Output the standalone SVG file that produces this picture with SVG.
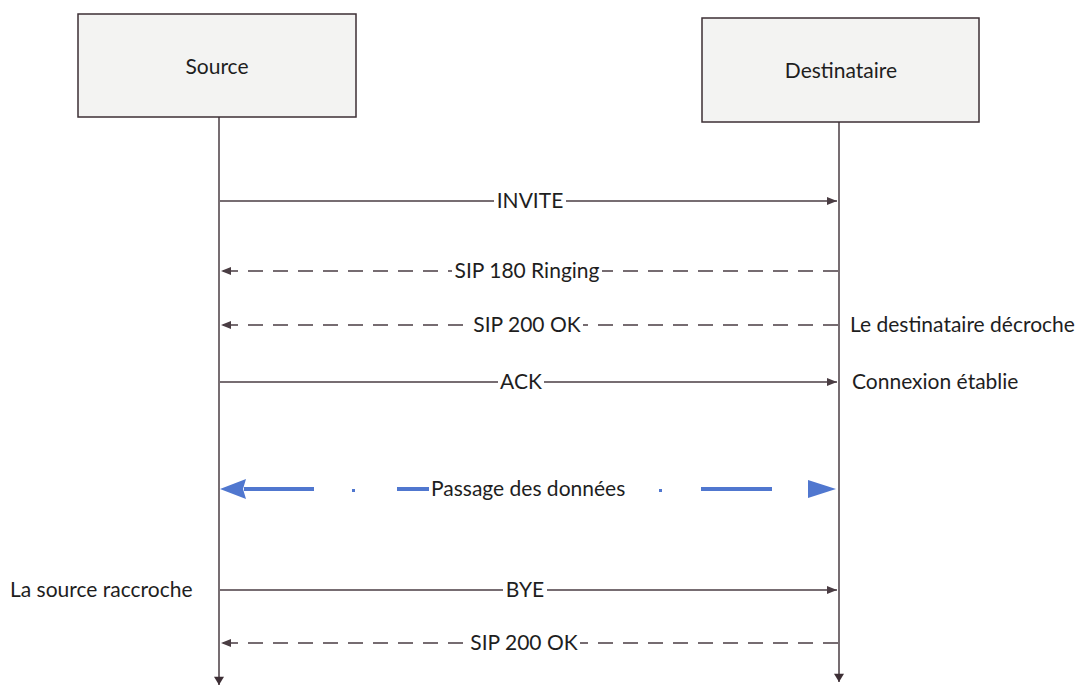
<svg xmlns="http://www.w3.org/2000/svg" width="1078" height="688" viewBox="0 0 1078 688">
  <style>
    .box { fill: #f3f3f2; stroke: #3d2f35; stroke-width: 1.5; }
    .life { stroke: #3d2f35; stroke-width: 1.4; fill: none; }
    .msg { stroke: #4a3d43; stroke-width: 1.3; fill: none; }
    .dash { stroke-dasharray: 15 10; }
    .lbl { font-family: Lato, "Liberation Sans", sans-serif; font-size: 21px; fill: #1e1e1e; }
    .mid { text-anchor: middle; }
    .bg { fill: #ffffff; }
    .blue { stroke: #5077cf; stroke-width: 4; fill: none; }
    .bluefill { fill: #5077cf; }
  </style>
  <defs>
    <marker id="head" viewBox="0 0 10 8" refX="10" refY="4" markerWidth="10" markerHeight="8" markerUnits="userSpaceOnUse" orient="auto-start-reverse">
      <path d="M0,0 L10,4 L0,8 Z" fill="#4a3d43"/>
    </marker>
    <marker id="down" viewBox="0 0 10 12" refX="10" refY="6" markerWidth="12" markerHeight="10" markerUnits="userSpaceOnUse" orient="auto">
      <path d="M0,0 L10,6 L0,12 Z" fill="#3d2f35"/>
    </marker>
  </defs>

  <rect width="1078" height="688" fill="#ffffff"/>

  <!-- participants -->
  <g id="source">
    <rect class="box" x="78" y="14" width="278" height="103"/>
    <text class="lbl mid" x="217" y="74">Source</text>
  </g>
  <g id="destinataire">
    <rect class="box" x="702" y="18" width="277" height="104"/>
    <text class="lbl mid" x="841" y="78">Destinataire</text>
  </g>

  <!-- side notes -->
  <g id="notes">
    <text class="lbl" x="850" y="332">Le destinataire décroche</text>
    <text class="lbl" x="852" y="389">Connexion établie</text>
    <text class="lbl" x="10" y="597">La source raccroche</text>
  </g>

  <!-- lifelines and messages -->
  <g id="connectors">
    <line class="life" x1="219" y1="117" x2="219" y2="685" marker-end="url(#down)"/>
    <line class="life" x1="839" y1="122" x2="839" y2="682" marker-end="url(#down)"/>

    <line class="msg" x1="220" y1="201" x2="837" y2="201" marker-end="url(#head)"/>
    <line class="msg dash" x1="838" y1="271" x2="221" y2="271" marker-end="url(#head)"/>
    <line class="msg dash" x1="838" y1="325" x2="221" y2="325" marker-end="url(#head)"/>
    <line class="msg" x1="220" y1="382" x2="837" y2="382" marker-end="url(#head)"/>
    <line class="msg" x1="220" y1="590" x2="837" y2="590" marker-end="url(#head)"/>
    <line class="msg dash" x1="838" y1="643" x2="221" y2="643" marker-end="url(#head)"/>

    <!-- data exchange, drawn in blue -->
    <path class="bluefill" d="M220,489 L246,479 L243,489 L246,499 Z"/>
    <line class="blue" x1="244" y1="489" x2="314" y2="489"/>
    <rect class="bluefill" x="352" y="489" width="3" height="3"/>
    <line class="blue" x1="397" y1="489" x2="429" y2="489"/>
    <rect class="bluefill" x="659" y="489" width="3" height="3"/>
    <line class="blue" x1="701" y1="489" x2="772" y2="489"/>
    <path class="bluefill" d="M808,480 L836,489 L808,498 Z"/>
  </g>

  <!-- message labels, each on a white strip that breaks its line -->
  <g id="labels">
    <rect class="bg" x="494" y="190" width="72" height="22"/>
    <text class="lbl mid" x="530" y="208">INVITE</text>
    <rect class="bg" x="452" y="260" width="150" height="22"/>
    <text class="lbl mid" x="527" y="278">SIP 180 Ringing</text>
    <rect class="bg" x="471" y="314" width="112" height="22"/>
    <text class="lbl mid" x="527" y="332">SIP 200 OK</text>
    <rect class="bg" x="498" y="371" width="46" height="22"/>
    <text class="lbl mid" x="521" y="389">ACK</text>
    <text class="lbl" x="431" y="496">Passage des données</text>
    <rect class="bg" x="503" y="579" width="44" height="22"/>
    <text class="lbl mid" x="525" y="597">BYE</text>
    <rect class="bg" x="468" y="632" width="112" height="22"/>
    <text class="lbl mid" x="524" y="650">SIP 200 OK</text>
  </g>
</svg>
